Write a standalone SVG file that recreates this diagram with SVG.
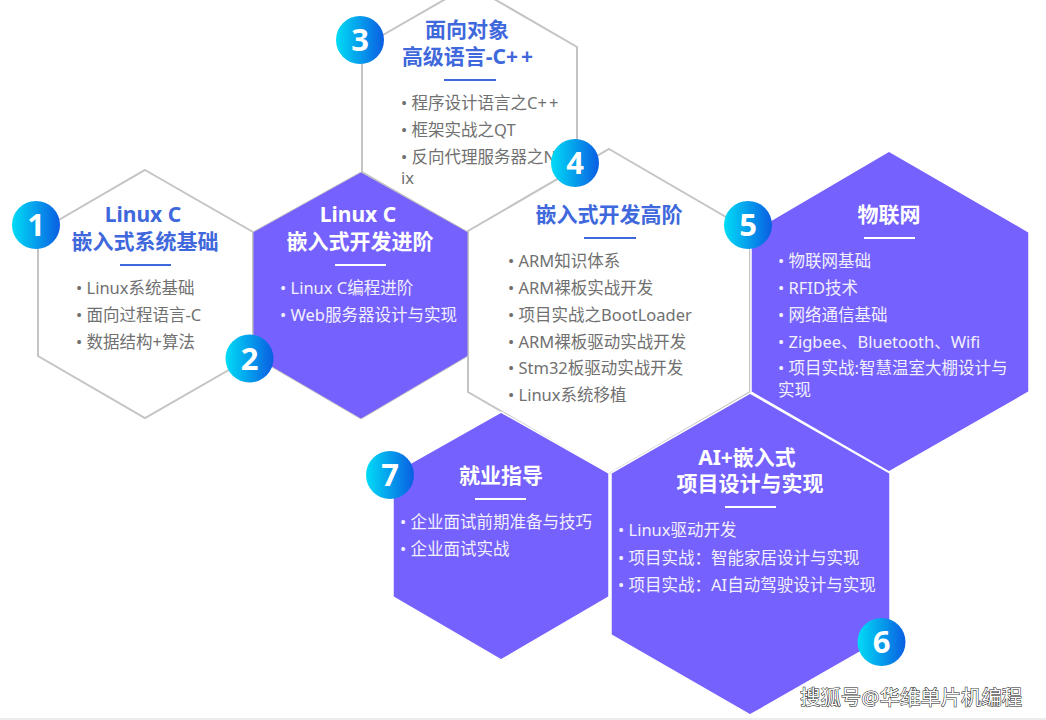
<svg xmlns="http://www.w3.org/2000/svg" width="1046" height="720" viewBox="0 0 1046 720">
<style>
text{font-family:"Noto Sans","Noto Sans CJK SC","Liberation Sans",sans-serif}
.o{fill:#fff;stroke:#c4c4c4;stroke-width:2}
.p{fill:#7561fd;stroke:#fff;stroke-width:1.5}
.tb{font-size:21px;font-weight:700;fill:#3f68dc;text-anchor:middle}
.tw{font-size:21px;font-weight:700;fill:#fff;text-anchor:middle}
.b{font-size:16.5px;fill:#707070}
.w{font-size:16.5px;fill:#f2f0ff}
.rb{stroke:#3f68dc;stroke-width:2}
.rw{stroke:#fff;stroke-width:2}
.c{fill:url(#g)}
.n{font-size:31px;font-weight:700;fill:#fff;text-anchor:middle}
.wm{font-size:20.4px;fill:#fff;stroke:#111;stroke-width:1;paint-order:stroke}
</style>
<defs><linearGradient id="g" x1="0" y1="0" x2="1" y2="0"><stop offset="0" stop-color="#00dcf6"/><stop offset="1" stop-color="#0a5ee2"/></linearGradient></defs>
<rect width="1046" height="720" fill="#fff"/>
<rect y="718" width="1046" height="2" fill="#ececec"/>
<g id="connectors"/>
<g id="node-3">
<polygon class="o" points="470,-15 577,47 577,172 470,234 362,172 362,47"/>
<text class="tb" x="467" y="37">面向对象</text>
<text class="tb" x="469" y="64">高级语言-C<tspan letter-spacing="3">++</tspan></text>
<line class="rb" x1="444" y1="80" x2="496" y2="80"/>
<text class="b" x="401" y="109">• 程序设计语言之C<tspan letter-spacing="2">++</tspan></text>
<text class="b" x="401" y="136">• 框架实战之QT</text>
<text class="b" x="401" y="163">• 反向代理服务器之N</text>
<text class="b" x="401" y="184">ix</text>
</g>
<g id="node-4">
<polygon class="o" points="609,149 750,231 750,392 609,474 468,392 468,231"/>
<text class="tb" x="609" y="222">嵌入式开发高阶</text>
<line class="rb" x1="584" y1="238" x2="636" y2="238"/>
<text class="b" x="508" y="267">• ARM知识体系</text>
<text class="b" x="508" y="294">• ARM裸板实战开发</text>
<text class="b" x="508" y="321">• 项目实战之BootLoader</text>
<text class="b" x="508" y="348">• ARM裸板驱动实战开发</text>
<text class="b" x="508" y="374">• Stm32板驱动实战开发</text>
<text class="b" x="508" y="401">• Linux系统移植</text>
</g>
<g id="node-1">
<polygon class="o" points="145,170 253,232 253,356 145,418 38,356 38,232"/>
<text class="tb" x="143" y="222">Linux C</text>
<text class="tb" x="145" y="249">嵌入式系统基础</text>
<line class="rb" x1="120" y1="265" x2="171" y2="265"/>
<text class="b" x="76" y="294">• Linux系统基础</text>
<text class="b" x="76" y="321">• 面向过程语言-C</text>
<text class="b" x="76" y="348">• 数据结构+算法</text>
</g>
<g id="node-2">
<polygon fill="#7561fd" stroke="#c4c4c4" stroke-width="1" points="361,172 468,232 468,356 361,419 253,356 253,232"/>
<text class="tw" x="358" y="222">Linux C</text>
<text class="tw" x="360" y="249">嵌入式开发进阶</text>
<line class="rw" x1="335" y1="265" x2="386" y2="265"/>
<text class="w" x="280" y="294">• Linux C编程进阶</text>
<text class="w" x="280" y="321">• Web服务器设计与实现</text>
</g>
<g id="node-5">
<polygon class="p" points="889,151 1029,232 1029,392 889,472 751,392 751,232"/>
<text class="tw" x="889" y="222">物联网</text>
<line class="rw" x1="864" y1="238" x2="915" y2="238"/>
<text class="w" x="778" y="267">• 物联网基础</text>
<text class="w" x="778" y="294">• RFID技术</text>
<text class="w" x="778" y="321">• 网络通信基础</text>
<text class="w" x="778" y="348">• Zigbee、Bluetooth、Wifi</text>
<text class="w" x="778" y="374">• 项目实战:智慧温室大棚设计与</text>
<text class="w" x="778" y="396">实现</text>
</g>
<g id="node-7">
<polygon class="p" points="501,412 609,473 609,597 501,660 393,597 393,473"/>
<text class="tw" x="501" y="483">就业指导</text>
<line class="rw" x1="475" y1="499" x2="526" y2="499"/>
<text class="w" x="400" y="528">• 企业面试前期准备与技巧</text>
<text class="w" x="400" y="555">• 企业面试实战</text>
</g>
<g id="node-6">
<polygon class="p" points="750,393 890,473 890,635 750,715 611,635 611,473"/>
<text class="tw" x="747" y="465">AI+嵌入式</text>
<text class="tw" x="750" y="491">项目设计与实现</text>
<line class="rw" x1="725" y1="507" x2="776" y2="507"/>
<text class="w" x="618" y="536">• Linux驱动开发</text>
<text class="w" x="618" y="563.500">• 项目实战：智能家居设计与实现</text>
<text class="w" x="618" y="590.500">• 项目实战：AI自动驾驶设计与实现</text>
</g>
<g id="badges">
<circle class="c" cx="36" cy="225" r="24"/><text class="n" x="36" y="236">1</text>
<circle class="c" cx="249.500" cy="358.500" r="24"/><text class="n" x="249.500" y="370">2</text>
<circle class="c" cx="360" cy="40" r="24"/><text class="n" x="360" y="51">3</text>
<circle class="c" cx="575" cy="163" r="24"/><text class="n" x="575" y="174">4</text>
<circle class="c" cx="748" cy="225" r="24"/><text class="n" x="748" y="236">5</text>
<circle class="c" cx="881.500" cy="642" r="24"/><text class="n" x="881.500" y="653">6</text>
<circle class="c" cx="390" cy="475" r="24"/><text class="n" x="390" y="486">7</text>
</g>
<text class="wm" x="800" y="705">搜狐号@华维单片机编程</text>
</svg>
